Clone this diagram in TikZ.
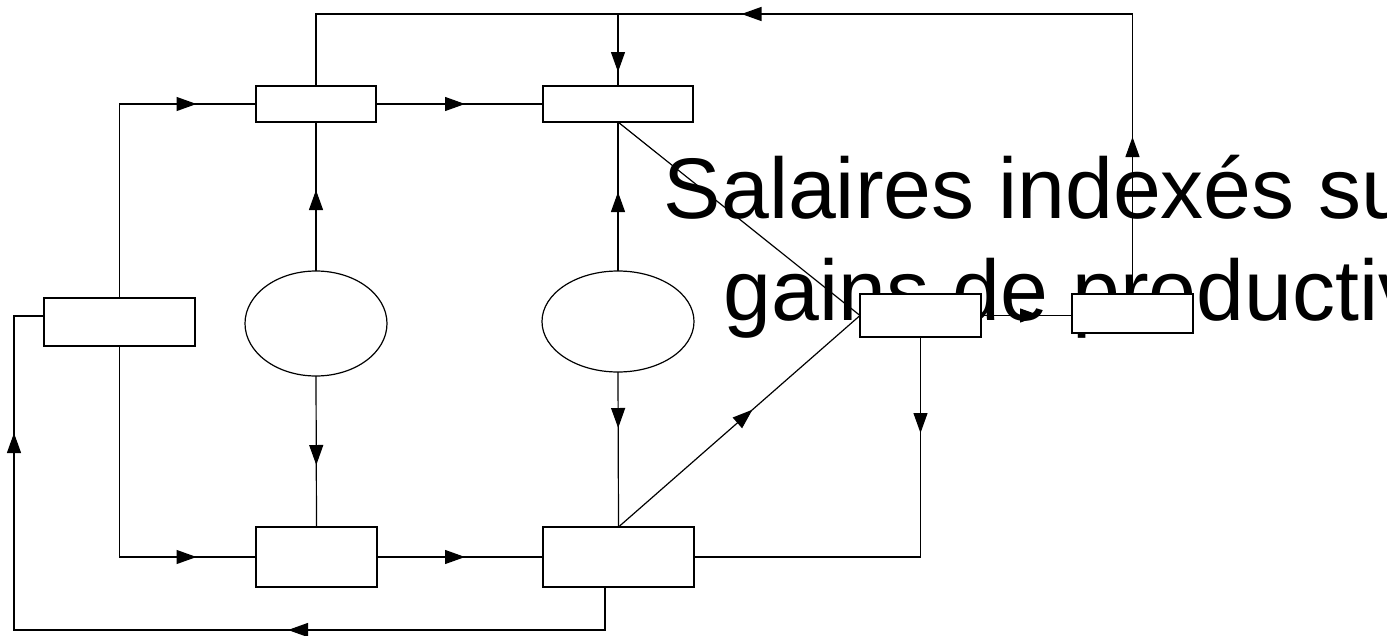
\documentclass[tikz,border=0pt]{standalone}
\usepackage{fontspec}
\newfontfamily\labfont{Liberation Sans}
\usetikzlibrary{arrows.meta,decorations.markings,shapes.geometric}
\tikzset{
  boxnode/.style={draw, fill=white, line width=1.3pt, inner sep=0pt, outer sep=0pt},
  ellnode/.style={draw, fill=white, ellipse, line width=1.2pt, inner sep=0pt, outer sep=0pt},
  conn/.style={line width=1.2pt},
  tipat/.style={postaction={decorate}, decoration={markings,
    mark=at position #1 with {\arrow{Triangle[length=20pt,width=14pt]}}}},
  tiptwo/.style 2 args={postaction={decorate}, decoration={markings,
    mark=at position #1 with {\arrow{Triangle[length=20pt,width=14pt]}},
    mark=at position #2 with {\arrow{Triangle[length=20pt,width=14pt]}}}}
}
\begin{document}
\begin{tikzpicture}[x=1pt,y=-1pt]
\useasboundingbox (0,0) rectangle (1387,635);
% text
\node[anchor=base, align=center, inner sep=0pt, font=\labfont\fontsize{86pt}{102pt}\selectfont] (lbl) at (1118,320) {Salaires indexés sur les\\gains de productivité};
% boxes
\node[boxnode, minimum width=151pt, minimum height=48pt] (A) at (119.5,322) {};
\node[boxnode, minimum width=120pt, minimum height=36pt] (B) at (316,104) {};
\node[boxnode, minimum width=150pt, minimum height=36pt] (C) at (618,104) {};
\node[boxnode, minimum width=121pt, minimum height=60pt] (D) at (316.5,557) {};
\node[boxnode, minimum width=151pt, minimum height=60pt] (F) at (618.5,557) {};
\node[boxnode, minimum width=121pt, minimum height=43pt] (G) at (920.5,315.5) {};
\node[boxnode, minimum width=121pt, minimum height=39pt] (H) at (1132.5,313.5) {};
\node[ellnode, minimum width=142pt, minimum height=105pt] (E1) at (316,323.5) {};
\node[ellnode, minimum width=152pt, minimum height=101pt] (E2) at (618,321.5) {};
% helper coordinates
\coordinate (top) at (0,14);
\coordinate (fb) at (605,587);
\coordinate (bl) at (14,630);
\coordinate (aw) at (44,316);
% connectors
\draw[conn, tipat=271pt] (A.north) |- (B.west);
\draw[conn, tipat=89pt] (B.east) -- (C.west);
\draw[conn, tiptwo={157pt}{671pt}] (H.north) |- (B.north |- top) -- (B.north);
\draw[conn, tipat=58pt] (C.north |- top) -- (C.north);
\draw[conn, tipat=81pt] (E1.north) -- (B.south);
\draw[conn, tipat=79pt] (E2.north) -- (C.south);
\draw[conn, tipat=89pt] (E1.south) -- (D.north);
\draw[conn, tipat=56pt] (E2.south) -- (F.north);
\draw[conn, tipat=288pt] (A.south) |- (D.west);
\draw[conn, tipat=88pt] (D.east) -- (F.west);
\draw[conn, tiptwo={360pt}{831pt}] (fb) |- (bl) |- (aw);
\draw[conn, tipat=178pt] (F.north) -- (G.west);
\draw[conn] (C.south) -- (G.west);
\draw[conn, tipat=59pt] (G.east) -- (G.east -| H.west);
\draw[conn, tipat=96pt] (G.south) |- (F.east);
\end{tikzpicture}
\end{document}
